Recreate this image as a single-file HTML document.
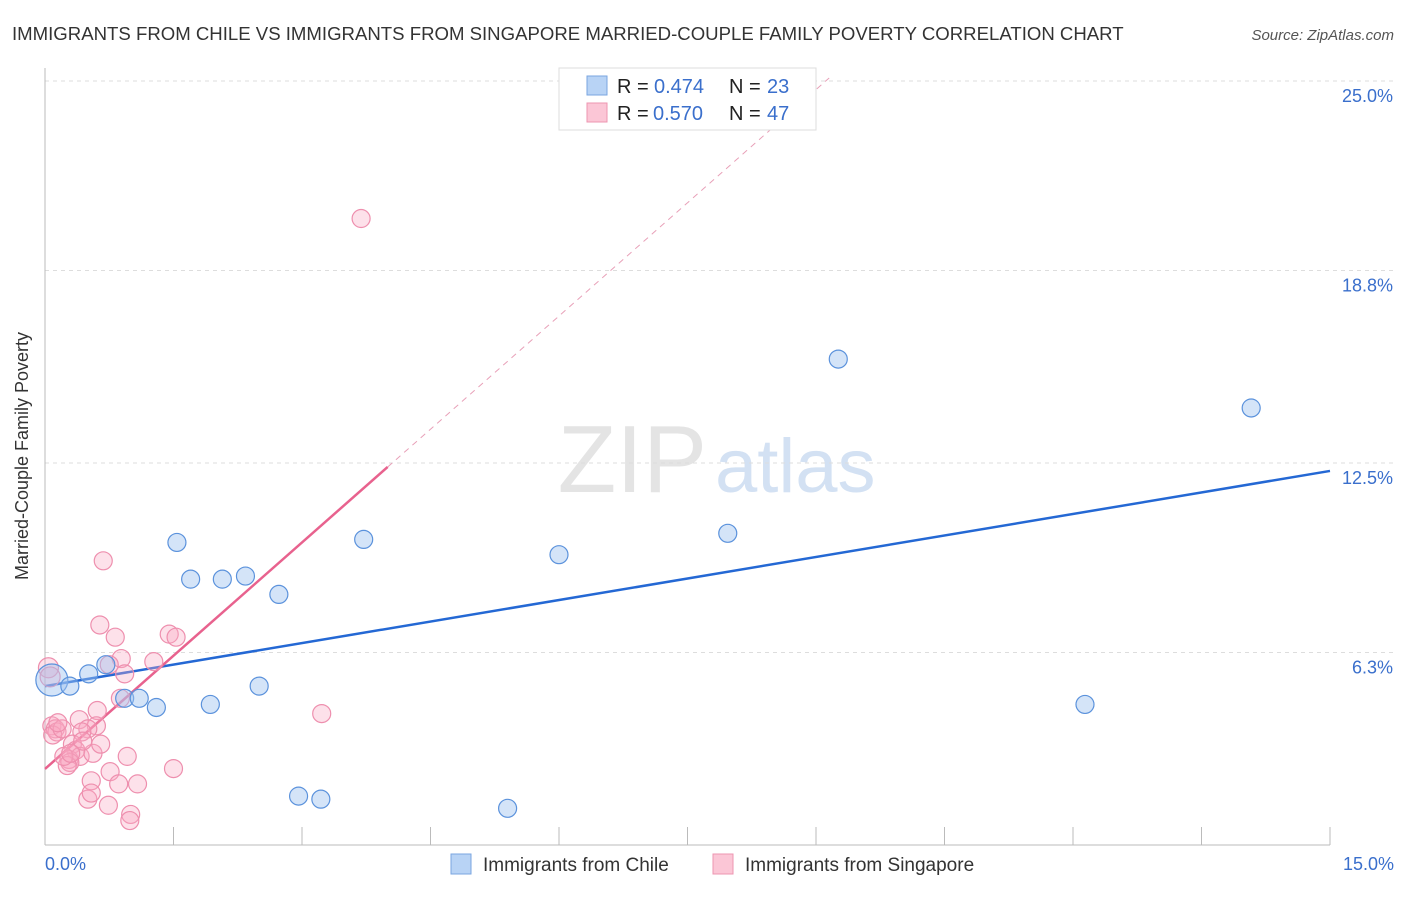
<!DOCTYPE html>
<html><head><meta charset="utf-8"><style>
body{margin:0;background:#fff;font-family:"Liberation Sans",sans-serif}
svg text{font-family:"Liberation Sans",sans-serif}
</style></head><body>
<svg width="1406" height="892">
<text x="12" y="40" font-size="18.6" fill="#333">IMMIGRANTS FROM CHILE VS IMMIGRANTS FROM SINGAPORE MARRIED-COUPLE FAMILY POVERTY CORRELATION CHART</text>
<text x="1394" y="40" font-size="15" fill="#555" font-style="italic" text-anchor="end">Source: ZipAtlas.com</text>
<text x="707" y="492" font-size="96" fill="#e4e4e4" text-anchor="end" font-family="Liberation Serif">ZIP</text>
<text x="715" y="492" font-size="76" fill="#d3e1f3">atlas</text>
<g id="grid"></g><g id="axes"></g><g id="lines"></g><g id="pts"></g>
<text x="28" y="456" font-size="18" fill="#333" text-anchor="middle" transform="rotate(-90 28 456)">Married-Couple Family Poverty</text>
<g>
<rect x="559" y="68" width="257" height="62" fill="#fff" stroke="#ddd"/>
<rect x="587" y="76" width="20" height="19" fill="#b8d3f5" stroke="#7aa6e0"/>
<rect x="587" y="103" width="20" height="19" fill="#fbc6d6" stroke="#ee95b0"/>
<text x="617" y="93" font-size="20" fill="#222">R =</text><text x="654" y="93" font-size="20" fill="#3a6fcc">0.474</text>
<text x="729" y="93" font-size="20" fill="#222">N =</text><text x="767" y="93" font-size="20" fill="#3a6fcc">23</text>
<text x="617" y="120" font-size="20" fill="#222">R =</text><text x="653" y="120" font-size="20" fill="#3a6fcc">0.570</text>
<text x="729" y="120" font-size="20" fill="#222">N =</text><text x="767" y="120" font-size="20" fill="#3a6fcc">47</text>
</g>
<g>
<rect x="451" y="854" width="20" height="20" fill="#b8d3f5" stroke="#7aa6e0"/>
<text x="483" y="871" font-size="19" fill="#333">Immigrants from Chile</text>
<rect x="713" y="854" width="20" height="20" fill="#fbc6d6" stroke="#ee95b0"/>
<text x="745" y="871" font-size="19" fill="#333">Immigrants from Singapore</text>
</g>
</svg>
<script>
const yTicks=[6.3,12.5,18.8,25.0];
const yTickLabels=["6.3%","12.5%","18.8%","25.0%"];
const xTickLabels=["0.0%","15.0%"];
const chileX=[0.08,0.29,0.51,0.71,0.93,1.10,1.30,1.54,1.70,1.93,2.07,2.34,2.50,2.73,2.96,3.22,3.72,5.40,6.00,7.97,9.26,12.14,14.08];
const chileY=[5.4,5.2,5.6,5.9,4.8,4.8,4.5,9.9,8.7,4.6,8.7,8.8,5.2,8.2,1.6,1.5,10.0,1.2,9.5,10.2,15.9,4.6,14.3];
const chileR=[16,9,9,9,9,9,9,9,9,9,9,9,9,9,9,9,9,9,9,9,9,9,9];
const singX=[0.04,0.06,0.68,0.64,0.82,0.89,0.93,0.88,0.75,1.27,1.45,1.53,3.69,3.23,0.08,0.12,0.14,0.09,0.20,0.15,0.40,0.61,0.60,0.50,0.43,0.32,0.36,0.28,0.41,0.29,0.56,0.96,0.76,0.86,0.54,0.50,0.54,1.08,0.74,1.00,0.99,1.50,0.26,0.22,0.65,0.44,0.30];
const singY=[5.8,5.5,9.3,7.2,6.8,6.1,5.6,4.8,5.9,6.0,6.9,6.8,20.5,4.3,3.9,3.8,3.7,3.6,3.8,4.0,4.1,4.4,3.9,3.8,3.7,3.3,3.1,2.8,2.9,2.7,3.0,2.9,2.4,2.0,2.1,1.5,1.7,2.0,1.3,1.0,0.8,2.5,2.6,2.9,3.3,3.4,3.0];
const chileLine=[5.2,12.24];
const singLine=[2.49,2.47];
const sx=v=>45+v*(1285/15), sy=v=>845-v*30.56;
const NS="http://www.w3.org/2000/svg";
function mk(t,a,p){const e=document.createElementNS(NS,t);for(const k in a)e.setAttribute(k,a[k]);document.getElementById(p).appendChild(e);return e;}
yTicks.forEach((v,i)=>{
 const g=mk('line',{x1:45,x2:1394,y1:sy(v),y2:sy(v),stroke:'#ddd','stroke-dasharray':'4,4'},'grid');
 
 
 const t=mk('text',{x:1393,y:sy(v)+21,'font-size':18,fill:'#3a6fcc','text-anchor':'end'},'axes');t.textContent=yTickLabels[i];
 
 
});
let ax=mk('line',{x1:45,x2:45,y1:68,y2:845,stroke:'#bbb'},'axes');


ax=mk('line',{x1:45,x2:1330,y1:845,y2:845,stroke:'#bbb'},'axes');


for(let i=0;i<=10;i++){const t=mk('line',{x1:sx(i*1.5),x2:sx(i*1.5),y1:827,y2:845,stroke:'#bbb'},'axes');
 
 }
[[0,45,'start'],[1,1394,'end']].forEach(([i,x,a])=>{const t=mk('text',{x:x,y:870,'font-size':18,fill:'#3a6fcc','text-anchor':a},'axes');t.textContent=xTickLabels[i];
 
 });
let l=mk('line',{x1:sx(0),y1:sy(chileLine[0]),x2:sx(15),y2:sy(chileLine[1]),stroke:'#2468d4','stroke-width':2.5},'lines');


const se=4;
l=mk('line',{x1:sx(0),y1:sy(singLine[0]),x2:sx(se),y2:sy(singLine[0]+singLine[1]*se),stroke:'#e8628e','stroke-width':2.5},'lines');


const xe=(25.1-singLine[0])/singLine[1];
l=mk('line',{x1:sx(se),y1:sy(singLine[0]+singLine[1]*se),x2:sx(xe),y2:sy(singLine[0]+singLine[1]*xe),stroke:'#e8a0b8','stroke-width':1,'stroke-dasharray':'6,5'},'lines');


singX.forEach((x,i)=>{const c=mk('circle',{cx:sx(x),cy:sy(singY[i]),r:i<2?10:9,fill:'rgba(248,170,195,0.35)',stroke:'#ee8fae','stroke-width':1.2},'pts');
 
 });
chileX.forEach((x,i)=>{const c=mk('circle',{cx:sx(x),cy:sy(chileY[i]),r:chileR[i],fill:'rgba(160,196,240,0.45)',stroke:'#5b92dc','stroke-width':1.2},'pts');
 
 });
</script>
</body></html>
